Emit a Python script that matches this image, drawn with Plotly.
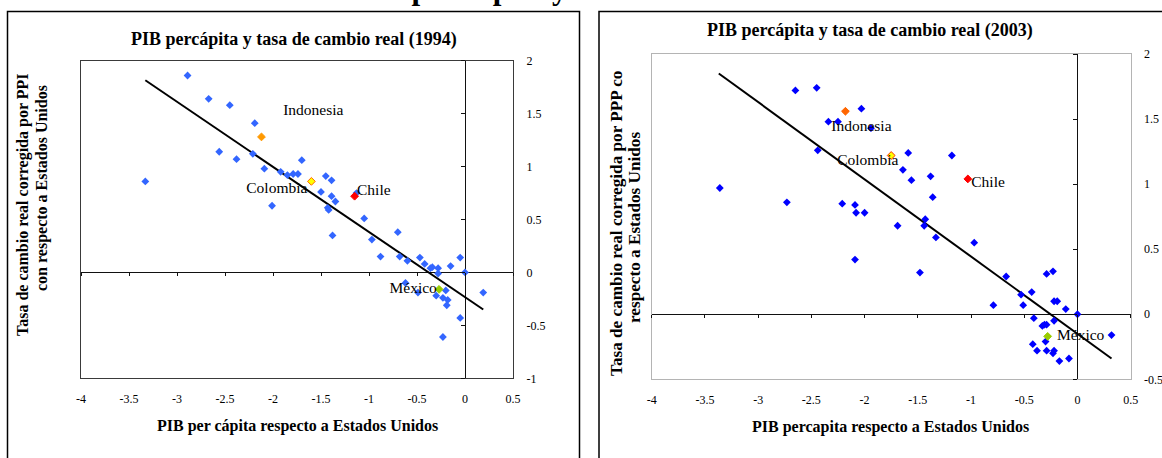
import plotly.graph_objects as go

# ---------------- data ----------------
# 1994 panel: other countries
x94 = [-2.89, -2.67, -2.45, -2.19, -2.56, -2.38, -2.21, -2.09, -1.92, -1.85,
       -1.79, -1.74, -1.70, -3.33, -1.45, -1.39, -1.50, -1.39, -1.35, -1.43,
       -1.42, -1.13, -2.01, -1.05, -0.70, -1.38, -0.97, -0.88, -0.68, -0.60,
       -0.47, -0.42, -0.36, -0.34, -0.28, -0.28, -0.15, -0.05, 0.0, -0.62,
       -0.20, -0.49, -0.30, -0.23, -0.18, -0.19, -0.05, -0.23, 0.19]
y94 = [1.86, 1.64, 1.58, 1.41, 1.14, 1.07, 1.12, 0.98, 0.95, 0.92,
       0.93, 0.93, 1.06, 0.86, 0.91, 0.87, 0.76, 0.72, 0.67, 0.61,
       0.59, 0.75, 0.63, 0.51, 0.38, 0.35, 0.31, 0.15, 0.15, 0.11,
       0.14, 0.08, 0.04, 0.05, 0.04, -0.01, 0.06, 0.14, 0.0, -0.10,
       -0.17, -0.19, -0.22, -0.24, -0.26, -0.31, -0.43, -0.61, -0.19]
# 1994 highlighted countries
hl_names = ["Indonesia", "Colombia", "Chile", "México"]
hl94_x = [-2.12, -1.60, -1.15, -0.27]
hl94_y = [1.28, 0.86, 0.72, -0.16]
lab94_x = [-1.58, -1.96, -0.95, -0.54]
lab94_y = [1.52, 0.79, 0.77, -0.157]
trend94_x = [-3.33, 0.19]
trend94_y = [1.815, -0.35]

# 2003 panel: other countries
x03 = [-2.65, -2.45, -2.03, -2.34, -2.25, -1.94, -2.44, -1.59, -1.18, -1.64,
       -1.38, -1.56, -1.36, -3.36, -2.73, -2.21, -2.09, -2.08, -2.00, -1.43,
       -1.44, -1.69, -1.33, -0.97, -2.09, -1.48, -0.67, -0.29, -0.23, -0.53,
       -0.43, -0.79, -0.51, -0.22, -0.19, -0.11, 0.0, -0.41, -0.22, -0.33,
       -0.31, -0.29, 0.32, -0.30, -0.42, -0.38, -0.29, -0.22, -0.23, -0.17,
       -0.08]
y03 = [1.72, 1.74, 1.58, 1.48, 1.48, 1.43, 1.26, 1.24, 1.22, 1.11,
       1.06, 1.03, 0.90, 0.97, 0.86, 0.85, 0.84, 0.78, 0.78, 0.73,
       0.68, 0.68, 0.59, 0.55, 0.42, 0.32, 0.29, 0.31, 0.33, 0.15,
       0.17, 0.07, 0.07, 0.10, 0.10, 0.04, 0.0, -0.03, -0.05, -0.09,
       -0.08, -0.08, -0.16, -0.21, -0.23, -0.28, -0.28, -0.28, -0.30, -0.36,
       -0.34]
hl03_x = [-2.18, -1.75, -1.03, -0.28]
hl03_y = [1.56, 1.22, 1.04, -0.17]
lab03_x = [-2.03, -1.97, -0.84, 0.03]
lab03_y = [1.44, 1.18, 1.005, -0.168]
trend03_x = [-3.37, 0.32]
trend03_y = [1.85, -0.34]

x_ticks = [-4, -3.5, -3, -2.5, -2, -1.5, -1, -0.5, 0, 0.5]
x_ticklabels = ["-4", "-3.5", "-3", "-2.5", "-2", "-1.5", "-1", "-0.5", "0", "0.5"]
y94_ticks = [-1, -0.5, 0, 0.5, 1, 1.5, 2]
y94_ticklabels = ["-1", "-0.5", "0", "0.5", "1", "1.5", "2"]
y03_ticks = [-0.5, 0, 0.5, 1, 1.5, 2]
y03_ticklabels = ["-0.5", "0", "0.5", "1", "1.5", "2"]

title94 = "PIB percápita y tasa de cambio real (1994)"
title03 = "PIB percápita y tasa de cambio real (2003)"
xtitle94 = "PIB per cápita respecto a Estados Unidos"
xtitle03 = "PIB percapita respecto a Estados Unidos"
ytitle94 = ["Tasa de cambio real corregida por PPI", "con respecto a Estados Unidos"]
ytitle03 = ["Tasa de cambio real corregida por PPP co", "respecto a Estados Unidos"]
top_title = "PIB per cápita y tasa de cambio real"

# ---------------- layout helpers ----------------
W, H = 1162, 458
FONT = "Liberation Serif"


def px(v):
    return v / W


def py(v):
    return 1 - v / H


fig = go.Figure()

panels = [
    dict(ax="", ov="3", xd=[px(81), px(513)], yd=[py(378.3), py(60.7)],
         yr=[-1, 2], yt=y94_ticks, ytl=y94_ticklabels, frame="#3a3a3a",
         x=x94, y=y94, hx=hl94_x, hy=hl94_y, lx=lab94_x, ly=lab94_y,
         tx=trend94_x, ty=trend94_y, blue="#3366FF",
         hcol=["#FF9900", "#FFFF00", "#FF0000", "#99CC00"],
         hline=["#FF9900", "#FF6600", "#FF0000", "#99CC00"]),
    dict(ax="2", ov="4", xd=[px(651.7), px(1130.7)], yd=[py(379.3), py(54)],
         yr=[-0.5, 2], yt=y03_ticks, ytl=y03_ticklabels, frame="#b4b4b4",
         x=x03, y=y03, hx=hl03_x, hy=hl03_y, lx=lab03_x, ly=lab03_y,
         tx=trend03_x, ty=trend03_y, blue="#0000FF",
         hcol=["#FF6600", "#FFFF00", "#FF0000", "#99CC00"],
         hline=["#FF6600", "#FF3300", "#FF0000", "#99CC00"]),
]

xr = [-4, 0.5]
for p in panels:
    a = p["ax"]
    xa = "x" + a
    ya = "y" + a
    fig.add_trace(go.Scatter(x=p["tx"], y=p["ty"], mode="lines",
                             line=dict(color="black", width=2),
                             xaxis=xa, yaxis=ya, hoverinfo="skip"))
    fig.add_trace(go.Scatter(x=p["x"], y=p["y"], mode="markers",
                             marker=dict(symbol="diamond", size=6, color=p["blue"],
                                         line=dict(width=0)),
                             xaxis=xa, yaxis=ya))
    fig.add_trace(go.Scatter(x=p["hx"], y=p["hy"], mode="markers",
                             marker=dict(symbol="diamond", size=6, color=p["hcol"],
                                         line=dict(width=1, color=p["hline"])),
                             xaxis=xa, yaxis=ya))
    fig.add_trace(go.Scatter(x=p["lx"], y=p["ly"], mode="text", text=hl_names,
                             textfont=dict(family=FONT, size=15.5, color="black"),
                             textposition="middle center",
                             xaxis=xa, yaxis=ya, hoverinfo="skip"))
    # overlay axes carrying the ticks of the zero lines
    o = p["ov"]
    fig.add_trace(go.Scatter(x=[], y=[], xaxis="x" + o, yaxis="y" + o,
                             hoverinfo="skip"))

    xkey = "xaxis" + a
    ykey = "yaxis" + a
    fig.layout[xkey] = dict(domain=p["xd"], range=xr, anchor=ya,
                            showline=True, mirror=True, linecolor=p["frame"], linewidth=1,
                            ticks="", tickvals=x_ticks, ticktext=x_ticklabels,
                            ticklabelstandoff=9,
                            tickfont=dict(family=FONT, size=12, color="black"),
                            showgrid=False, zeroline=True, zerolinecolor="#111111",
                            zerolinewidth=1, fixedrange=True)
    fig.layout[ykey] = dict(domain=p["yd"], range=p["yr"], anchor=xa, side="right",
                            showline=True, mirror=True, linecolor=p["frame"], linewidth=1,
                            ticks="", tickvals=p["yt"], ticktext=p["ytl"],
                            ticklabelstandoff=10,
                            tickfont=dict(family=FONT, size=12, color="black"),
                            showgrid=False, zeroline=True, zerolinecolor="#111111",
                            zerolinewidth=1, fixedrange=True)
    yzero = p["yd"][0] + (0 - p["yr"][0]) / (p["yr"][1] - p["yr"][0]) * (p["yd"][1] - p["yd"][0])
    xzero = p["xd"][0] + (0 - xr[0]) / (xr[1] - xr[0]) * (p["xd"][1] - p["xd"][0])
    fig.layout["xaxis" + o] = dict(overlaying=xa, range=xr, anchor="free", position=yzero,
                                   side="bottom", ticks="outside", ticklen=3, tickwidth=1,
                                   tickcolor="#111111", tickvals=x_ticks,
                                   showticklabels=False, showline=False, showgrid=False,
                                   zeroline=False, fixedrange=True)
    fig.layout["yaxis" + o] = dict(overlaying=ya, range=p["yr"], anchor="free", position=xzero,
                                   side="left", ticks="outside", ticklen=4, tickwidth=1,
                                   tickcolor="#111111", tickvals=p["yt"],
                                   showticklabels=False, showline=False, showgrid=False,
                                   zeroline=False, fixedrange=True)

ann = []
# cut-off overall title at the very top (only its descenders show, as in the source)
ann.append(dict(text="<b>" + top_title + "</b>", xref="paper", yref="paper",
                x=px(350), y=py(8), xanchor="left", yanchor="bottom", showarrow=False,
                font=dict(family=FONT, size=31, color="black")))
# panel titles
ann.append(dict(text="<b>" + title94 + "</b>", xref="paper", yref="paper",
                x=px(294), y=py(39), xanchor="center", yanchor="middle", showarrow=False,
                font=dict(family=FONT, size=18, color="black")))
ann.append(dict(text="<b>" + title03 + "</b>", xref="paper", yref="paper",
                x=px(870), y=py(30), xanchor="center", yanchor="middle", showarrow=False,
                font=dict(family=FONT, size=18, color="black")))
# x titles
ann.append(dict(text="<b>" + xtitle94 + "</b>", xref="paper", yref="paper",
                x=px(297), y=py(425.5), xanchor="center", yanchor="middle", showarrow=False,
                font=dict(family=FONT, size=16, color="black")))
ann.append(dict(text="<b>" + xtitle03 + "</b>", xref="paper", yref="paper",
                x=px(890), y=py(426.5), xanchor="center", yanchor="middle", showarrow=False,
                font=dict(family=FONT, size=16, color="black")))
# y titles (rotated, two lines each)
for txt, xx, yy, fs in [(ytitle94[0], 23, 205, 16), (ytitle94[1], 42, 188, 16),
                        (ytitle03[0], 616, 224, 17.2), (ytitle03[1], 634, 228, 17.2)]:
    ann.append(dict(text="<b>" + txt + "</b>", xref="paper", yref="paper",
                    x=px(xx), y=py(yy), xanchor="center", yanchor="middle",
                    textangle=-90, showarrow=False,
                    font=dict(family=FONT, size=fs, color="black")))

shapes = [
    dict(type="rect", xref="paper", yref="paper", x0=px(7.5), x1=px(579.5),
         y0=py(470), y1=py(11.5), line=dict(color="black", width=1.5), layer="below"),
    dict(type="rect", xref="paper", yref="paper", x0=px(599), x1=px(1175),
         y0=py(470), y1=py(11.5), line=dict(color="black", width=1.5), layer="below"),
]

fig.update_layout(width=W, height=H,
                  margin=dict(l=0, r=0, t=0, b=0, pad=0, autoexpand=False),
                  paper_bgcolor="white", plot_bgcolor="white", showlegend=False,
                  annotations=ann, shapes=shapes,
                  font=dict(family=FONT, color="black"))

fig.write_html("out.html", config={"displayModeBar": False},
               post_script="document.body.style.margin='0';")
